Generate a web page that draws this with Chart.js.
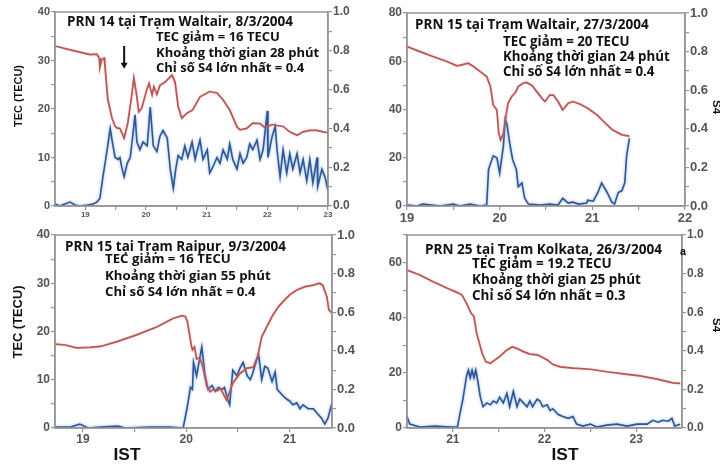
<!DOCTYPE html>
<html lang="vi">
<head>
<meta charset="utf-8">
<title>TEC và chỉ số S4</title>
<script src="https://cdn.jsdelivr.net/npm/chart.js@4.4.1/dist/chart.umd.min.js"></script>
<style>
  html, body { margin: 0; padding: 0; background: #fff; }
  body { width: 720px; height: 465px; overflow: hidden; position: relative; }
  canvas.panel { position: absolute; }
  .note { position: absolute; white-space: nowrap; font-family: "Open Sans", sans-serif; font-weight: 700; color: #111; line-height: 1; transform: translateY(-50%); }
  .axis-title { position: absolute; white-space: nowrap; font-family: "Liberation Sans", Arial, sans-serif; font-weight: 700; color: #111; line-height: 1; }
</style>
</head>
<body>
<canvas id="p1" class="panel" width="360" height="225" style="left:0;top:0"></canvas>
<canvas id="p2" class="panel" width="360" height="225" style="left:360px;top:0"></canvas>
<canvas id="p3" class="panel" width="360" height="240" style="left:0;top:225px"></canvas>
<canvas id="p4" class="panel" width="360" height="240" style="left:360px;top:225px"></canvas>
<script>
// ---- PRN 14, Waltair, 8/3/2004 ----
const waltair8TecHours = [18.50,18.75,19.08,19.19,19.23,19.24,19.27,19.31,19.32,19.37,19.44,19.49,19.52,19.57,19.64,19.70,19.77,19.80,19.85,19.88,19.93,19.98,20.02,20.05,20.10,20.13,20.18,20.23,20.31,20.43,20.48,20.53,20.59,20.68,20.77,20.89,21.05,21.17,21.27,21.38,21.50,21.55,21.66,21.76,21.88,21.96,22.08,22.16,22.26,22.37,22.49,22.59,22.70,22.82,22.92,23.00];
const waltair8Tec = [33.0,32.2,31.2,31.3,30.5,28.6,30.2,30.5,29.5,22.0,18.1,16.5,16.1,16.0,14.0,17.1,23.3,26.4,22.5,19.4,20.2,22.5,24.3,25.3,22.9,24.6,23.0,24.9,25.5,27.0,25.5,20.5,18.1,19.2,19.8,22.5,23.6,23.3,21.9,19.8,16.3,15.7,16.0,17.1,17.0,16.2,16.8,16.6,16.4,15.3,14.6,15.3,15.6,15.6,15.3,15.1];
const waltair8S4Hours = [18.50,18.58,18.66,18.75,18.83,18.91,19.04,19.13,19.19,19.24,19.29,19.36,19.41,19.44,19.49,19.54,19.57,19.60,19.64,19.69,19.74,19.77,19.82,19.85,19.90,19.95,20.02,20.07,20.12,20.18,20.23,20.28,20.35,20.40,20.45,20.49,20.53,20.59,20.64,20.69,20.76,20.81,20.84,20.89,20.94,21.01,21.05,21.10,21.17,21.22,21.27,21.34,21.38,21.43,21.50,21.55,21.60,21.66,21.71,21.76,21.83,21.88,21.93,22.00,22.01,22.08,22.13,22.16,22.21,22.26,22.32,22.37,22.42,22.49,22.54,22.59,22.65,22.70,22.75,22.82,22.83,22.90,22.95,23.00];
const waltair8S4 = [0.01,0.0,0.01,0.02,0.005,0.0,0.005,0.01,0.02,0.04,0.15,0.29,0.40,0.34,0.25,0.24,0.25,0.20,0.15,0.22,0.25,0.33,0.47,0.33,0.29,0.33,0.31,0.51,0.31,0.28,0.36,0.39,0.35,0.19,0.09,0.19,0.26,0.24,0.31,0.25,0.33,0.24,0.28,0.34,0.24,0.29,0.17,0.20,0.25,0.22,0.29,0.24,0.32,0.24,0.19,0.27,0.22,0.25,0.32,0.29,0.34,0.24,0.29,0.49,0.25,0.36,0.41,0.29,0.15,0.29,0.17,0.27,0.19,0.27,0.17,0.24,0.13,0.24,0.12,0.25,0.10,0.19,0.15,0.08];

// ---- PRN 15, Waltair, 27/3/2004 ----
const waltair27TecHours = [19.00,19.14,19.28,19.43,19.54,19.59,19.66,19.71,19.79,19.86,19.90,19.93,19.97,19.99,20.01,20.04,20.07,20.09,20.13,20.17,20.20,20.25,20.29,20.35,20.40,20.47,20.49,20.54,20.58,20.63,20.68,20.74,20.79,20.87,20.95,21.05,21.14,21.22,21.32,21.40];
const waltair27Tec = [66.1,64.0,62.0,59.9,58.1,58.5,59.2,58.0,55.7,53.7,49.5,41.9,39.8,30.2,27.4,30.0,37.8,42.6,45.4,47.0,49.5,50.9,51.2,50.0,47.4,44.0,43.3,46.0,46.0,43.3,39.8,42.6,43.3,42.2,40.5,37.8,34.3,31.5,29.5,29.0];
const waltair27S4Hours = [19.00,19.11,19.17,19.36,19.50,19.57,19.68,19.79,19.86,19.88,19.93,19.97,20.00,20.04,20.06,20.08,20.11,20.14,20.18,20.20,20.24,20.27,20.31,20.44,20.54,20.63,20.68,20.74,20.79,20.85,20.94,20.95,21.01,21.06,21.10,21.16,21.21,21.24,21.28,21.32,21.35,21.37,21.40];
const waltair27S4 = [0.005,0.0,0.01,0.0,0.01,0.0,0.01,0.0,0.005,0.19,0.26,0.25,0.17,0.31,0.45,0.42,0.32,0.24,0.19,0.10,0.12,0.04,0.01,0.005,0.01,0.005,0.04,0.015,0.02,0.01,0.015,0.03,0.025,0.07,0.12,0.07,0.02,0.01,0.07,0.08,0.12,0.26,0.35];

// ---- PRN 15, Raipur, 9/3/2004 ----
const raipur9TecHours = [18.73,18.83,18.94,19.07,19.17,19.33,19.52,19.72,19.87,19.96,19.99,20.01,20.03,20.05,20.06,20.08,20.10,20.13,20.16,20.20,20.23,20.26,20.30,20.33,20.35,20.39,20.42,20.45,20.52,20.59,20.65,20.69,20.73,20.78,20.83,20.89,20.95,21.00,21.07,21.15,21.23,21.29,21.32,21.36,21.38,21.41];
const raipur9Tec = [17.4,17.2,16.6,16.7,16.9,17.9,19.3,21.0,22.7,23.3,23.1,22.2,19.6,17.0,16.2,16.8,14.3,14.6,12.7,8.6,7.5,8.0,7.7,8.2,7.4,5.8,7.5,9.3,11.3,12.4,12.6,14.8,18.9,21.0,23.1,25.1,26.5,27.6,28.6,29.3,29.6,30.0,29.6,27.2,24.5,23.8];
const raipur9S4Hours = [18.73,18.88,18.97,19.05,19.17,19.34,19.41,19.65,19.84,19.97,20.01,20.04,20.06,20.07,20.10,20.15,20.18,20.21,20.25,20.28,20.31,20.35,20.37,20.40,20.42,20.45,20.49,20.52,20.55,20.59,20.62,20.64,20.68,20.70,20.73,20.76,20.79,20.83,20.86,20.88,20.93,20.97,21.00,21.03,21.07,21.10,21.13,21.18,21.23,21.26,21.31,21.34,21.37,21.41];
const raipur9S4 = [0.005,0.005,0.02,0.0,0.005,0.01,0.0,0.005,0.005,0.0,0.11,0.21,0.20,0.34,0.27,0.42,0.28,0.20,0.22,0.19,0.21,0.20,0.21,0.15,0.12,0.30,0.27,0.31,0.34,0.27,0.25,0.28,0.35,0.38,0.25,0.32,0.31,0.24,0.29,0.20,0.17,0.15,0.14,0.12,0.13,0.10,0.12,0.10,0.10,0.08,0.05,0.02,0.05,0.13];

// ---- PRN 25, Kolkata, 26/3/2004 ----
const kolkata26TecHours = [20.50,20.64,20.78,20.94,21.05,21.10,21.15,21.20,21.23,21.26,21.32,21.36,21.41,21.46,21.51,21.59,21.65,21.70,21.77,21.84,21.92,21.95,21.98,22.03,22.09,22.17,22.31,22.50,22.68,22.86,23.04,23.23,23.40,23.48];
const kolkata26Tec = [57.3,55.5,53.1,50.7,49.1,48.2,45.2,41.6,40.5,34.3,27.1,24.0,23.5,24.7,25.9,28.3,29.5,28.8,27.7,26.8,26.5,26.1,25.6,24.7,23.1,22.2,21.7,21.3,20.4,19.6,18.9,17.7,16.4,16.2];
const kolkata26S4Hours = [20.50,20.53,20.64,20.81,20.97,21.05,21.08,21.11,21.15,21.17,21.19,21.21,21.23,21.25,21.27,21.30,21.33,21.37,21.41,21.44,21.48,21.51,21.55,21.59,21.62,21.66,21.70,21.73,21.77,21.81,21.84,21.87,21.92,21.95,21.98,22.03,22.06,22.09,22.15,22.20,22.26,22.31,22.35,22.42,22.50,22.57,22.68,22.79,22.90,23.01,23.12,23.18,23.24,23.29,23.35,23.39,23.42,23.48];
const kolkata26S4 = [0.06,0.02,0.005,0.01,0.005,0.005,0.08,0.15,0.27,0.30,0.26,0.30,0.26,0.30,0.25,0.16,0.11,0.13,0.12,0.14,0.13,0.16,0.13,0.18,0.11,0.19,0.11,0.15,0.13,0.11,0.14,0.11,0.15,0.14,0.11,0.12,0.09,0.10,0.07,0.06,0.05,0.06,0.02,0.01,0.02,0.005,0.015,0.02,0.01,0.02,0.02,0.04,0.03,0.04,0.035,0.05,0.01,0.02];

// ---- tick positions (labelled ones are the whole hours / major values) ----
const hourTicksA = [19,19.5,20,20.5,21,21.5,22,22.5,23];
const hourTicksB = [19,19.5,20,20.5,21,21.5,22];
const hourTicksC = [19,19.5,20,20.5,21];
const hourTicksD = [21,21.5,22,22.5,23];
const tecTicks40 = [0,5,10,15,20,25,30,35,40];
const tecTicks80 = [0,10,20,30,40,50,60,70,80];
const tecTicks70 = [0,10,20,30,40,50,60,70];
const s4Ticks = [0,0.1,0.2,0.3,0.4,0.5,0.6,0.7,0.8,0.9,1.0];

// arrow marking the onset in the first panel (hour, TEC top, TEC tip)
const onsetArrow = { hour: 19.64, tecTop: 33.0, tecTip: 28.3 };

const RED = '#ba5653';
const BLUE = '#305795';
const AXIS = '#969696';
const TICK_TEXT = '#555';

const framePlugin = {
  id: 'frame',
  afterDraw(chart) {
    const { ctx, chartArea: a } = chart;
    ctx.save();
    ctx.strokeStyle = AXIS;
    ctx.lineWidth = 1.5;
    ctx.strokeRect(a.left, a.top, a.right - a.left, a.bottom - a.top);
    ctx.restore();
  }
};

const haloPlugin = {
  id: 'halo',
  beforeDatasetDraw(chart, args) {
    const ds = chart.data.datasets[args.index];
    const c = chart.ctx;
    c.save();
    if (ds.yAxisID === 's4') { c.shadowColor = 'rgba(120,160,215,0.85)'; c.shadowBlur = 3; }
    else { c.shadowColor = 'rgba(225,150,150,0.6)'; c.shadowBlur = 2; }
  },
  afterDatasetDraw(chart) { chart.ctx.restore(); }
};

const arrowPlugin = {
  id: 'onsetArrow',
  afterDatasetsDraw(chart, args, opts) {
    if (!opts || !opts.show) return;
    const { ctx, scales } = chart;
    const x = scales.x.getPixelForValue(opts.hour);
    const y0 = scales.tec.getPixelForValue(opts.tecTop);
    const y1 = scales.tec.getPixelForValue(opts.tecTip);
    ctx.save();
    ctx.strokeStyle = '#111';
    ctx.fillStyle = '#111';
    ctx.lineWidth = 2;
    ctx.beginPath(); ctx.moveTo(x, y0); ctx.lineTo(x, y1 - 5); ctx.stroke();
    ctx.beginPath(); ctx.moveTo(x - 3.5, y1 - 6); ctx.lineTo(x + 3.5, y1 - 6); ctx.lineTo(x, y1); ctx.closePath(); ctx.fill();
    ctx.restore();
  }
};

const near = (v, step) => Math.abs(v / step - Math.round(v / step)) < 1e-6;

function buildPanel(p) {
  const tecPts = p.tecHours.map((h, i) => ({ x: h, y: p.tec[i] }));
  const s4Pts = p.s4Hours.map((h, i) => ({ x: h, y: p.s4[i] }));
  const tickFont = sz => ({ family: '"Liberation Sans", Arial, sans-serif', weight: 'bold', size: sz });
  const grid = { drawOnChartArea: false, tickLength: 4, color: AXIS, lineWidth: 1.2 };
  const border = { color: AXIS, width: 1.5 };
  return new Chart(document.getElementById(p.canvas), {
    type: 'line',
    data: {
      datasets: [
        { label: 'TEC', data: tecPts, yAxisID: 'tec', borderColor: RED, borderWidth: 1.7, pointRadius: 0, tension: 0, order: 0 },
        { label: 'S4', data: s4Pts, yAxisID: 's4', borderColor: BLUE, borderWidth: 1.6, pointRadius: 0, tension: 0, order: 1 }
      ]
    },
    options: {
      responsive: false,
      animation: false,
      events: [],
      layout: { padding: { top: p.box.top, left: 0, right: 0, bottom: 0 } },
      plugins: { legend: { display: false }, tooltip: { enabled: false }, onsetArrow: p.arrow || { show: false } },
      scales: {
        x: {
          type: 'linear', min: p.xMin, max: p.xMax,
          afterBuildTicks: ax => { ax.ticks = p.xTicks.map(v => ({ value: v })); },
          afterFit: ax => { ax.height = p.box.bottom; },
          ticks: { autoSkip: false, maxRotation: 0, padding: p.xPad, color: TICK_TEXT, font: tickFont(p.xFont),
                   callback: v => near(v, 1) ? String(Math.round(v)) : '' },
          grid, border
        },
        tec: {
          type: 'linear', position: 'left', min: 0, max: p.tecMax,
          afterBuildTicks: ax => { ax.ticks = p.tecTicks.map(v => ({ value: v })); },
          afterFit: ax => { ax.width = p.box.left; },
          ticks: { autoSkip: false, padding: 1, color: TICK_TEXT, font: tickFont(p.tecFont),
                   callback: v => near(v, p.tecMajor) ? String(v) : '' },
          grid, border
        },
        s4: {
          type: 'linear', position: 'right', min: 0, max: 1,
          afterBuildTicks: ax => { ax.ticks = s4Ticks.map(v => ({ value: v })); },
          afterFit: ax => { ax.width = p.box.right; },
          ticks: { autoSkip: false, padding: 1, color: TICK_TEXT, font: tickFont(p.s4Font),
                   callback: v => near(v, 0.2) ? v.toFixed(1) : '' },
          grid, border
        }
      }
    },
    plugins: [haloPlugin, arrowPlugin, framePlugin]
  });
}

buildPanel({ canvas: 'p1', xMin: 18.5, xMax: 23, xTicks: hourTicksA, tecMax: 40, tecTicks: tecTicks40, tecMajor: 10,
  tecHours: waltair8TecHours, tec: waltair8Tec, s4Hours: waltair8S4Hours, s4: waltair8S4,
  box: { top: 12, left: 55, right: 32, bottom: 19 }, xFont: 8, xPad: 0, tecFont: 11, s4Font: 12,
  arrow: { show: true, ...onsetArrow } });

buildPanel({ canvas: 'p2', xMin: 19, xMax: 22, xTicks: hourTicksB, tecMax: 80, tecTicks: tecTicks80, tecMajor: 20,
  tecHours: waltair27TecHours, tec: waltair27Tec, s4Hours: waltair27S4Hours, s4: waltair27S4,
  box: { top: 13, left: 47, right: 35, bottom: 19 }, xFont: 13, xPad: 1, tecFont: 12, s4Font: 13 });

buildPanel({ canvas: 'p3', xMin: 18.73, xMax: 21.41, xTicks: hourTicksC, tecMax: 40, tecTicks: tecTicks40, tecMajor: 10,
  tecHours: raipur9TecHours, tec: raipur9Tec, s4Hours: raipur9S4Hours, s4: raipur9S4,
  box: { top: 10, left: 55, right: 28, bottom: 37 }, xFont: 12, xPad: 0, tecFont: 12, s4Font: 13 });

buildPanel({ canvas: 'p4', xMin: 20.5, xMax: 23.5, xTicks: hourTicksD, tecMax: 70, tecTicks: tecTicks70, tecMajor: 20,
  tecHours: kolkata26TecHours, tec: kolkata26Tec, s4Hours: kolkata26S4Hours, s4: kolkata26S4,
  box: { top: 10, left: 47, right: 38, bottom: 37 }, xFont: 12, xPad: 0, tecFont: 12, s4Font: 12 });

// ---- annotation blocks inside each panel ----
const measureCtx = document.createElement('canvas').getContext('2d');
function widthAt(text, size, family) {
  measureCtx.font = `700 ${size}px ${family}`;
  return measureCtx.measureText(text).width;
}
const NOTE_FAMILY = '"Open Sans", sans-serif';

const noteBlocks = [
  { title: ['PRN 14 tại Trạm Waltair, 8/3/2004', 67, 22, 226], left: 156,
    lines: [['TEC giảm = 16 TECU', 37, 118], ['Khoảng thời gian 28 phút', 53, 166], ['Chỉ số S4 lớn nhất = 0.4', 68, 153]] },
  { title: ['PRN 15 tại Trạm Waltair, 27/3/2004', 415, 25, 234], left: 503,
    lines: [['TEC giảm = 20 TECU', 42, 123], ['Khoảng thời gian 24 phút', 57, 168], ['Chỉ số S4 lớn nhất = 0.4', 72, 155]] },
  { title: ['PRN 15 tại Trạm Raipur, 9/3/2004', 65, 247, 221], left: 105,
    lines: [['TEC giảm = 16 TECU', 259, 127], ['Khoảng thời gian 55 phút', 276, 162], ['Chỉ số S4 lớn nhất = 0.4', 292, 153]] },
  { title: ['PRN 25 tại Trạm Kolkata, 26/3/2004', 425, 249, 237], left: 472,
    lines: [['TEC giảm = 19.2 TECU', 264, 140], ['Khoảng thời gian 25 phút', 280, 167], ['Chỉ số S4 lớn nhất = 0.3', 296, 155]] }
];

function addNote(text, left, cy, size) {
  const el = document.createElement('div');
  el.className = 'note';
  el.textContent = text;
  el.style.left = left + 'px';
  el.style.top = cy + 'px';
  el.style.fontSize = size.toFixed(2) + 'px';
  document.body.appendChild(el);
}

noteBlocks.forEach(b => {
  const [t, tl, tcy, tw] = b.title;
  addNote(t, tl, tcy, 12 * tw / widthAt(t, 12, NOTE_FAMILY));
  const sizes = b.lines.map(([txt, , w]) => 12 * w / widthAt(txt, 12, NOTE_FAMILY));
  const size = sizes.reduce((s, v) => s + v, 0) / sizes.length;
  b.lines.forEach(([txt, cy]) => addNote(txt, b.left, cy, size));
});

// ---- axis titles ----
const TITLE_FAMILY = '"Liberation Sans", Arial, sans-serif';
const axisTitles = [
  ['TEC (TECU)', 18, 96, 62, -90],
  ['TEC (TECU)', 18, 322, 73, -90],
  ['S4', 716, 107, 14, 90],
  ['S4', 716, 325, 14, 90],
  ['IST', 127, 455, 27, 0],
  ['IST', 565, 455, 27, 0],
  ['a', 683, 251, 6, 0]
];
axisTitles.forEach(([txt, cx, cy, len, rot]) => {
  const el = document.createElement('div');
  el.className = 'axis-title';
  el.textContent = txt;
  el.style.fontSize = (12 * len / widthAt(txt, 12, TITLE_FAMILY)).toFixed(2) + 'px';
  el.style.left = cx + 'px';
  el.style.top = cy + 'px';
  el.style.transform = `translate(-50%, -50%) rotate(${rot}deg)`;
  document.body.appendChild(el);
});
</script>
</body>
</html>
